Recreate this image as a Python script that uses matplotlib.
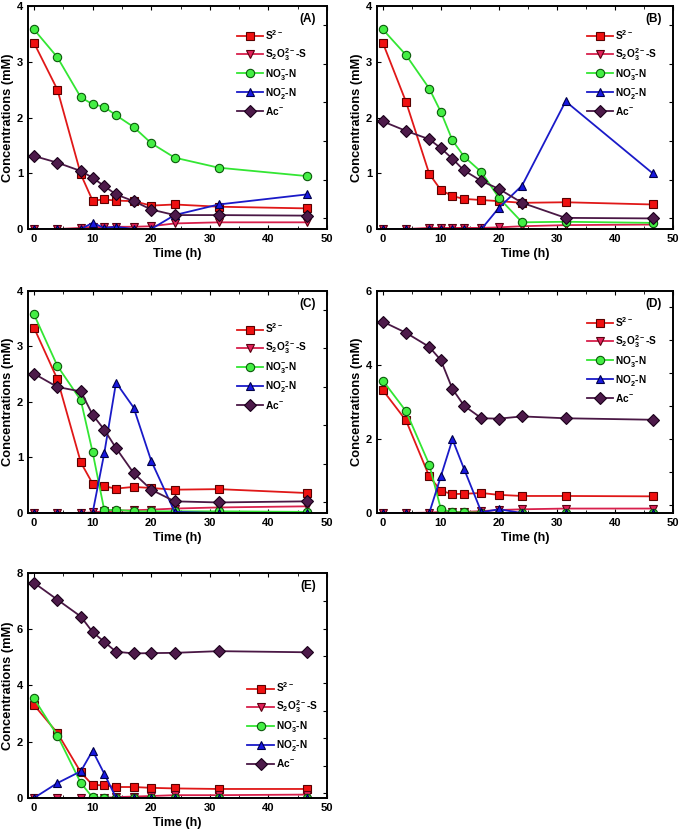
import numpy as np
import matplotlib
matplotlib.use("Agg")
import matplotlib.pyplot as plt

plt.rcParams.update({
    'font.family': ['Liberation Sans', 'DejaVu Sans'],
    'font.weight': 'bold',
    'axes.labelweight': 'bold',
    'mathtext.fontset': 'custom',
    'mathtext.rm': 'Liberation Sans:bold',
    'mathtext.bf': 'Liberation Sans:bold',
    'mathtext.default': 'bf',
    'axes.linewidth': 1.2,
    'xtick.direction': 'in', 'ytick.direction': 'in',
    'xtick.major.size': 3, 'ytick.major.size': 3,
    'xtick.minor.size': 2, 'ytick.minor.size': 2,
    'xtick.labelsize': 8, 'ytick.labelsize': 8,
})

# sampling times (h)
time_h = [0, 4, 8, 10, 12, 14, 17, 20, 24, 31.5, 46.5]

# panel A
s2_a = [3.34, 2.50, 0.98, 0.51, 0.53, 0.51, 0.50, 0.42, 0.44, 0.40, 0.37]
s2o3_a = [0.0, 0.0, 0.02, 0.04, 0.03, 0.04, 0.04, 0.05, 0.10, 0.12, 0.12]
no3_a = [3.58, 3.08, 2.36, 2.24, 2.19, 2.04, 1.83, 1.54, 1.28, 1.10, 0.95]
no2_a = [0.0, 0.0, 0.0, 0.11, 0.02, 0.04, 0.0, 0.0, 0.25, 0.44, 0.62]
ac_a = [1.31, 1.19, 1.04, 0.92, 0.77, 0.62, 0.50, 0.35, 0.25, 0.25, 0.24]

# panel B
s2_b = [3.34, 2.28, 0.99, 0.70, 0.59, 0.54, 0.52, 0.50, 0.47, 0.48, 0.44]
s2o3_b = [0.0, 0.0, 0.02, 0.02, 0.02, 0.02, 0.02, 0.03, 0.05, 0.07, 0.08]
no3_b = [3.58, 3.12, 2.52, 2.10, 1.59, 1.30, 1.02, 0.56, 0.12, 0.13, 0.11]
no2_b = [0.0, 0.0, 0.0, 0.0, 0.0, 0.0, 0.0, 0.38, 0.78, 2.29, 1.00]
ac_b = [1.93, 1.76, 1.61, 1.45, 1.26, 1.05, 0.86, 0.72, 0.47, 0.20, 0.19]

# panel C
s2_c = [3.34, 2.41, 0.91, 0.53, 0.48, 0.44, 0.47, 0.45, 0.42, 0.43, 0.36]
s2o3_c = [0.0, 0.0, 0.0, 0.01, 0.03, 0.04, 0.05, 0.06, 0.08, 0.10, 0.12]
no3_c = [3.58, 2.65, 2.03, 1.10, 0.05, 0.06, 0.03, 0.03, 0.03, 0.03, 0.02]
no2_c = [0.0, 0.0, 0.0, 0.0, 1.08, 2.35, 1.90, 0.94, 0.02, 0.0, 0.0]
ac_c = [2.51, 2.27, 2.19, 1.77, 1.50, 1.17, 0.72, 0.42, 0.21, 0.19, 0.21]

# panel D
s2_d = [3.32, 2.50, 0.99, 0.60, 0.51, 0.52, 0.54, 0.49, 0.46, 0.46, 0.45]
s2o3_d = [0.0, 0.0, 0.01, 0.03, 0.03, 0.03, 0.05, 0.08, 0.10, 0.12, 0.12]
no3_d = [3.58, 2.75, 1.31, 0.11, 0.02, 0.02, 0.01, 0.0, 0.0, 0.0, 0.0]
no2_d = [0.0, 0.0, 0.0, 0.99, 1.99, 1.19, 0.02, 0.10, 0.0, 0.0, 0.0]
ac_d = [5.17, 4.87, 4.49, 4.13, 3.35, 2.90, 2.56, 2.55, 2.61, 2.56, 2.52]

# panel E
s2_e = [3.31, 2.31, 0.91, 0.46, 0.45, 0.39, 0.39, 0.36, 0.34, 0.32, 0.32]
s2o3_e = [0.0, 0.0, 0.0, 0.0, 0.0, 0.03, 0.05, 0.07, 0.10, 0.10, 0.12]
no3_e = [3.54, 2.22, 0.53, 0.02, 0.01, 0.0, 0.0, 0.0, 0.0, 0.0, 0.0]
no2_e = [0.0, 0.53, 0.95, 1.68, 0.86, 0.01, 0.0, 0.0, 0.0, 0.0, 0.0]
ac_e = [7.65, 7.05, 6.45, 5.90, 5.55, 5.20, 5.14, 5.15, 5.16, 5.22, 5.18]

labels = [r'S$^{2-}$', r'S$_2$O$_3^{2-}$-S', r'NO$_3^{-}$-N',
          r'NO$_2^{-}$-N', r'Ac$^{-}$']
styles = [
    dict(color='#e01818', marker='s', mfc='#f01010', mec='#5a0000'),
    dict(color='#d8204c', marker='v', mfc='#e0205a', mec='#5a0010'),
    dict(color='#33e633', marker='o', mfc='#44ee44', mec='#0a5a0a'),
    dict(color='#1a1ac8', marker='^', mfc='#1818e0', mec='#00004a'),
    dict(color='#4a1845', marker='D', mfc='#4d1a4a', mec='#1a001a'),
]

panels = [
    ('(A)', [s2_a, s2o3_a, no3_a, no2_a, ac_a], 4, [0.041, 0.7254, 0.4365, 0.2674], (0.685, 0.92), 0.173, 0.049),
    ('(B)', [s2_b, s2o3_b, no3_b, no2_b, ac_b], 4, [0.5504, 0.7254, 0.432, 0.2674], (0.695, 0.92), 0.173, 0.049),
    ('(C)', [s2_c, s2o3_c, no3_c, no2_c, ac_c], 4, [0.041, 0.3849, 0.4365, 0.2662], (0.685, 0.88), 0.173, 0.049),
    ('(D)', [s2_d, s2o3_d, no3_d, no2_d, ac_d], 6, [0.5504, 0.3849, 0.432, 0.2662], (0.695, 0.91), 0.149, 0.036),
    ('(E)', [s2_e, s2o3_e, no3_e, no2_e, ac_e], 8, [0.041, 0.0432, 0.4365, 0.2698], (0.72, 0.54), 0.122, 0.021),
]

fig = plt.figure(figsize=(6.85, 8.34), dpi=100)

for tag, series, ymax, rect, leg_xy, rstep, rstart in panels:
    ax = fig.add_axes(rect)
    for vals, lab, st in zip(series, labels, styles):
        ax.plot(time_h, vals, label=lab, lw=1.3, ms=6, mew=0.8, **st)
    ax.set_xlim(-1, 50)
    ax.set_ylim(0, ymax)
    ax.set_xticks([0, 10, 20, 30, 40, 50])
    ax.set_xticks(np.arange(5, 50, 10), minor=True)
    ax.set_yticks(np.arange(0, ymax + 1, 2 if ymax > 4 else 1))
    ax.tick_params(top=True, which='both')
    ax.set_xlabel('Time (h)', fontsize=9, labelpad=3)
    ax.set_ylabel('Concentrations (mM)', fontsize=9.3, labelpad=2)
    ax.text(0.963, 0.97, tag, transform=ax.transAxes, ha='right', va='top',
            fontsize=8.5, fontweight='bold')
    ax.legend(loc='upper left', bbox_to_anchor=leg_xy, frameon=False,
              fontsize=7.3, handlelength=2.6, handletextpad=0.2,
              labelspacing=0.4, borderaxespad=0)
    # right-hand axis carries its own odd tick spacing
    rax = ax.twinx()
    rax.set_ylim(0, 1)
    rax.set_yticks(np.arange(rstart, 0.97, rstep))
    rax.tick_params(axis='y', direction='in', length=3, labelright=False)

fig.savefig('out.png', dpi=100)
